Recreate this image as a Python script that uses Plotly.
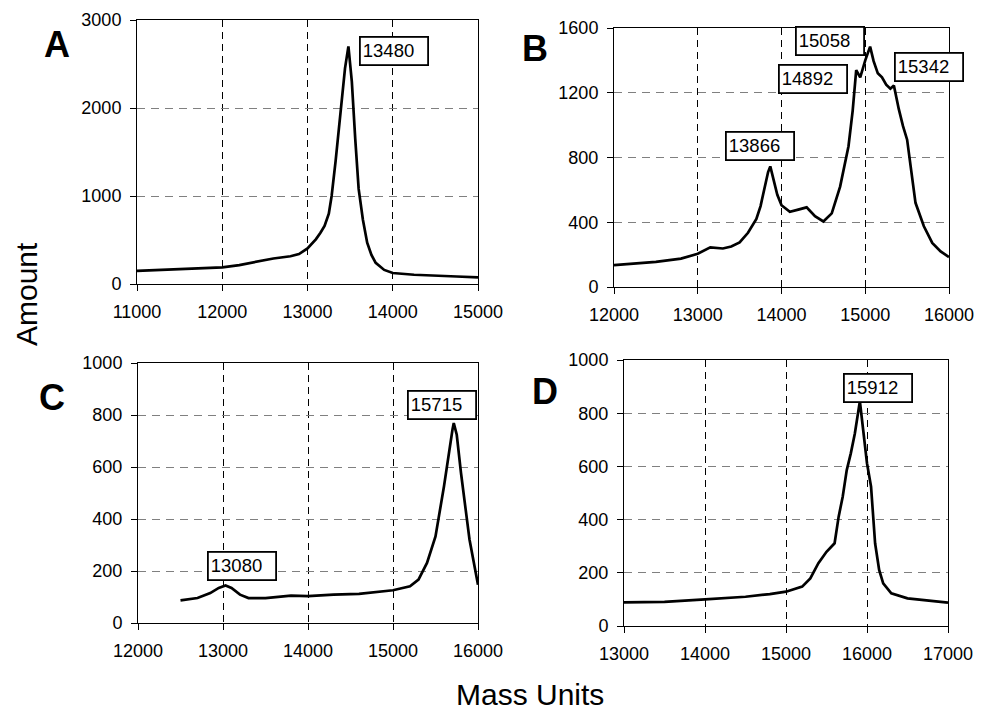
import plotly.graph_objects as go

# ---------------- data ----------------
a_mass = [11000, 11250, 11500, 11750, 12000, 12200, 12400, 12600, 12800, 12900, 13000, 13100, 13150,
          13200, 13250, 13283, 13330, 13388, 13440, 13480, 13520, 13560, 13600, 13650, 13700, 13750,
          13800, 13900, 14000, 14250, 14500, 14750, 15000]
a_amount = [150, 160, 170, 178, 190, 215, 250, 290, 315, 340, 405, 510, 580,
            660, 800, 1000, 1400, 2000, 2450, 2700, 2300, 1650, 1080, 730, 470, 330,
            240, 160, 125, 105, 92, 85, 76]

b_mass = [12000, 12250, 12500, 12800, 13000, 13150, 13300, 13400, 13500, 13600, 13700, 13750, 13800,
          13840, 13866, 13900, 13950, 14000, 14100, 14200, 14300, 14400, 14500, 14600, 14700, 14800,
          14850, 14892, 14940, 15000, 15058, 15100, 15150, 15200, 15250, 15300, 15342, 15400, 15450,
          15500, 15550, 15600, 15700, 15800, 15900, 16000]
b_amount = [135, 145, 155, 175, 205, 245, 238, 250, 275, 335, 420, 500, 620,
            710, 745, 680, 570, 505, 465, 478, 492, 437, 405, 455, 620, 870,
            1090, 1340, 1295, 1400, 1485, 1395, 1320, 1295, 1250, 1225, 1245, 1100, 995,
            910, 725, 520, 375, 272, 220, 185]

c_mass = [12500, 12700, 12850, 12950, 13030, 13100, 13200, 13300, 13500, 13800, 14000, 14300, 14600,
          15000, 15200, 15300, 15400, 15500, 15600, 15650, 15700, 15715, 15750, 15800, 15900, 16000]
c_amount = [87, 96, 115, 135, 144, 135, 109, 96, 96, 105, 103, 109, 112,
            126, 141, 167, 231, 333, 526, 641, 744, 769, 724, 577, 321, 147]

d_mass = [13000, 13500, 14000, 14500, 14800, 15000, 15200, 15300, 15400, 15500, 15600, 15650, 15700,
          15750, 15800, 15850, 15912, 15950, 16000, 16050, 16100, 16150, 16200, 16300, 16500, 17000]
d_amount = [89, 91, 100, 110, 120, 129, 148, 179, 236, 279, 311, 411, 486,
            586, 649, 724, 845, 749, 612, 524, 311, 211, 160, 123, 104, 88]

a_x_ticks = [11000, 12000, 13000, 14000, 15000]
b_x_ticks = [12000, 13000, 14000, 15000, 16000]
c_x_ticks = [12000, 13000, 14000, 15000, 16000]
d_x_ticks = [13000, 14000, 15000, 16000, 17000]
a_y_ticks = [0, 1000, 2000, 3000]
b_y_ticks = [0, 400, 800, 1200, 1600]
cd_y_ticks = [0, 200, 400, 600, 800, 1000]

panel_letters = ["A", "B", "C", "D"]
peak_labels_a = ["13480"]
peak_labels_b = ["15058", "14892", "15342", "13866"]
peak_labels_c = ["13080", "15715"]
peak_labels_d = ["15912"]
# label box anchor positions in data units
a_label_pos = [(14015, 2642)]
b_label_pos = [(14580, 1520), (14375, 1282), (15760, 1359), (13740, 871)]
c_label_pos = [(13218, 219), (15571, 838)]
d_label_pos = [(16136, 895)]

# ---------------- layout ----------------
OFF = 8  # page body margin of the viewer
W, H = 982 - OFF, 719 - 2 * OFF
FONT = "Liberation Sans, Arial, sans-serif"
TICK = 18

def px_x(p):
    return (p - OFF) / W

def px_y(p):
    return 1 - (p - OFF) / H

panels = [
    ("", (137, 478), (20, 284), a_x_ticks, a_y_ticks, a_mass, a_amount, peak_labels_a, a_label_pos),
    ("2", (614, 949), (28, 287), b_x_ticks, b_y_ticks, b_mass, b_amount, peak_labels_b, b_label_pos),
    ("3", (138, 478), (363, 623), c_x_ticks, cd_y_ticks, c_mass, c_amount, peak_labels_c, c_label_pos),
    ("4", (624, 948), (360, 626), d_x_ticks, cd_y_ticks, d_mass, d_amount, peak_labels_d, d_label_pos),
]

fig = go.Figure()
layout = dict(
    width=W, height=H,
    margin=dict(l=0, r=0, t=0, b=0, autoexpand=False),
    paper_bgcolor="white", plot_bgcolor="white",
    showlegend=False,
    font=dict(family=FONT, color="black", size=TICK),
)
annotations = []

for suf, (x0, x1), (y0, y1), xt, yt, mx, my, labels, pos in panels:
    xa = "x" + suf
    ya = "y" + suf
    fig.add_trace(go.Scatter(x=mx, y=my, mode="lines", xaxis=xa, yaxis=ya,
                             line=dict(color="black", width=2.7), hoverinfo="skip"))
    layout["xaxis" + suf] = dict(
        domain=[px_x(x0), px_x(x1)], anchor=ya, automargin=False,
        range=[xt[0], xt[-1]], tickvals=xt, ticktext=[str(v) for v in xt],
        showline=True, linecolor="black", linewidth=1, mirror=True,
        ticks="outside", ticklen=6, tickcolor="black", tickwidth=1,
        ticklabelstandoff=5, ticklabeloverflow="allow",
        showgrid=True, gridcolor="black", gridwidth=1, griddash="7px,5px",
        zeroline=False, tickfont=dict(size=TICK, family=FONT),
        fixedrange=True,
    )
    layout["yaxis" + suf] = dict(
        domain=[px_y(y1), px_y(y0)], anchor=xa, automargin=False,
        range=[yt[0], yt[-1]], tickvals=yt, ticktext=[str(v) for v in yt],
        showline=True, linecolor="black", linewidth=1, mirror=True,
        ticks="outside", ticklen=6, tickcolor="black", tickwidth=1,
        ticklabelstandoff=5,
        showgrid=True, gridcolor="#808080", gridwidth=1, griddash="8px,6px",
        zeroline=False, tickfont=dict(size=TICK, family=FONT),
        fixedrange=True,
    )
    for lab, (lx, ly) in zip(labels, pos):
        annotations.append(dict(
            x=lx, y=ly, xref=xa, yref=ya, text=lab, showarrow=False,
            xanchor="center", yanchor="middle", align="left",
            width=62, height=22, borderpad=2, borderwidth=1.8, bordercolor="black",
            bgcolor="white", font=dict(size=18.5, family=FONT, color="black"),
        ))

letter_pos = [(57, 45), (535, 48), (52, 397), (545, 391)]
for letter, (lx, ly) in zip(panel_letters, letter_pos):
    annotations.append(dict(
        x=px_x(lx), y=px_y(ly), xref="paper", yref="paper", text="<b>%s</b>" % letter,
        showarrow=False, xanchor="center", yanchor="middle",
        font=dict(size=36, family=FONT, color="black"),
    ))

annotations.append(dict(
    x=px_x(26), y=px_y(294), xref="paper", yref="paper", text="Amount", textangle=-90,
    showarrow=False, xanchor="center", yanchor="middle",
    font=dict(size=30, family=FONT, color="black"),
))
annotations.append(dict(
    x=px_x(530), y=px_y(694), xref="paper", yref="paper", text="Mass Units",
    showarrow=False, xanchor="center", yanchor="middle",
    font=dict(size=30, family=FONT, color="black"),
))

layout["annotations"] = annotations
fig.update_layout(**layout)
fig.write_html("out.html")
